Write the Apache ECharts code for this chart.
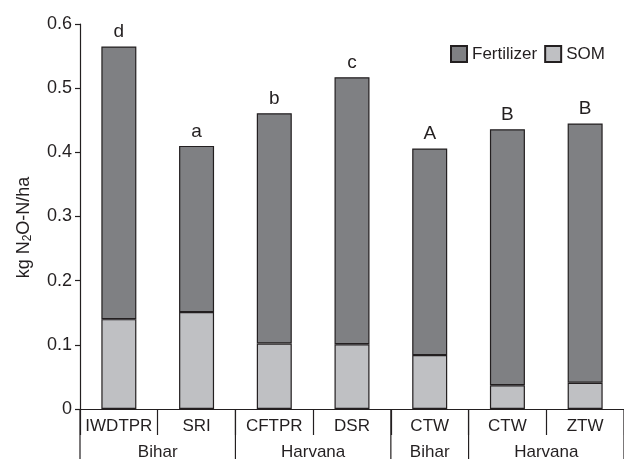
<!DOCTYPE html>
<html><head><meta charset="utf-8">
<script src="https://cdn.jsdelivr.net/npm/echarts@6/dist/echarts.min.js"></script>
<style>html,body{margin:0;padding:0;background:#fff}#c{width:624px;height:459px}</style>
</head><body><div id="c"></div>
<script>
const categories = ['IWDTPR', 'SRI', 'CFTPR', 'DSR', 'CTW', 'CTW', 'ZTW'];
const groupNames = ['Bihar', 'Harvana', 'Bihar', 'Harvana'];
const groupSpans = [2, 2, 1, 2];
const somValues = [0.140, 0.151, 0.102, 0.101, 0.084, 0.037, 0.041];
const fertilizerValues = [0.425, 0.259, 0.359, 0.416, 0.322, 0.399, 0.404];
const sigLetters = ['d', 'a', 'b', 'c', 'A', 'B', 'B'];
const yTicks = [0, 0.1, 0.2, 0.3, 0.4, 0.5, 0.6];

const FONT = '"Liberation Sans", Arial, Helvetica, sans-serif';
const INK = '#231f20';
const chart = echarts.init(document.getElementById('c'), null, {renderer: 'canvas'});

const option = {
  animation: false,
  backgroundColor: '#fff',
  textStyle: {fontFamily: FONT, color: INK},
  grid: {left: 80, top: 24, width: 556, height: 385, containLabel: false},
  legend: {
    orient: 'horizontal',
    left: 445, top: 40, width: 200, itemWidth: 16, itemHeight: 16, itemGap: 7,
    icon: 'rect',
    data: ['Fertilizer', 'SOM'],
    textStyle: {fontFamily: FONT, fontSize: 17, color: INK}
  },
  xAxis: {
    type: 'category', data: categories,
    axisLine: {lineStyle: {color: INK, width: 1.2}},
    axisTick: {show: true, length: 26, lineStyle: {color: INK, width: 1.2}},
    axisLabel: {fontFamily: FONT, fontSize: 17, color: INK, margin: 9, interval: 0}
  },
  yAxis: {
    type: 'value', min: yTicks[0], max: yTicks[yTicks.length - 1], interval: 0.1,
    splitLine: {show: false},
    axisLine: {show: true, lineStyle: {color: INK, width: 1.2}},
    axisTick: {show: true, length: 5, lineStyle: {color: INK, width: 1.2}},
    axisLabel: {fontFamily: FONT, fontSize: 18, color: INK, margin: 8},
    name: 'kg N{sub|2}O-N/ha',
    nameLocation: 'middle', nameGap: 46,
    nameTextStyle: {
      fontFamily: FONT, fontSize: 18, color: INK,
      padding: [0, 22, 0, 0],
      rich: {sub: {fontSize: 12, verticalAlign: 'bottom', padding: [8, 0, 0, 0], fontFamily: FONT, color: INK}}
    }
  },
  series: [
    {
      name: 'SOM', type: 'bar', stack: 'n2o', data: somValues, barWidth: 35,
      itemStyle: {color: '#bfc0c3', borderColor: INK, borderWidth: 1.2}
    },
    {
      name: 'Fertilizer', type: 'bar', stack: 'n2o', data: fertilizerValues, barWidth: 35,
      itemStyle: {color: '#7f8083', borderColor: INK, borderWidth: 1.2},
      label: {
        show: true, position: 'top', distance: 5,
        fontFamily: FONT, fontSize: 19, color: INK,
        formatter: p => sigLetters[p.dataIndex]
      }
    }
  ]
};
chart.setOption(option);

// group separators and group labels, positioned via the category axis scale
const c0 = chart.convertToPixel({xAxisIndex: 0}, 0);
const c1 = chart.convertToPixel({xAxisIndex: 0}, 1);
const bw = c1 - c0;
const yZero = chart.convertToPixel({yAxisIndex: 0}, 0);
const H = chart.getHeight();
const elems = [];
let idx = 0;
const edge = i => c0 - bw / 2 + i * bw;
elems.push({type: 'line', shape: {x1: edge(0), y1: yZero, x2: edge(0), y2: H}, style: {stroke: INK, lineWidth: 1.2}});
groupNames.forEach((g, k) => {
  const start = idx, end = idx + groupSpans[k];
  const xm = (edge(start) + edge(end)) / 2;
  elems.push({type: 'text', x: xm, y: yZero + 43, style: {text: g, fontFamily: FONT, fontSize: 17, fill: INK, align: 'center', verticalAlign: 'middle'}});
  elems.push({type: 'line', shape: {x1: edge(end), y1: yZero, x2: edge(end), y2: H}, style: {stroke: INK, lineWidth: 1.2}});
  idx = end;
});
chart.setOption({graphic: {elements: elems}});
</script>
</body></html>
